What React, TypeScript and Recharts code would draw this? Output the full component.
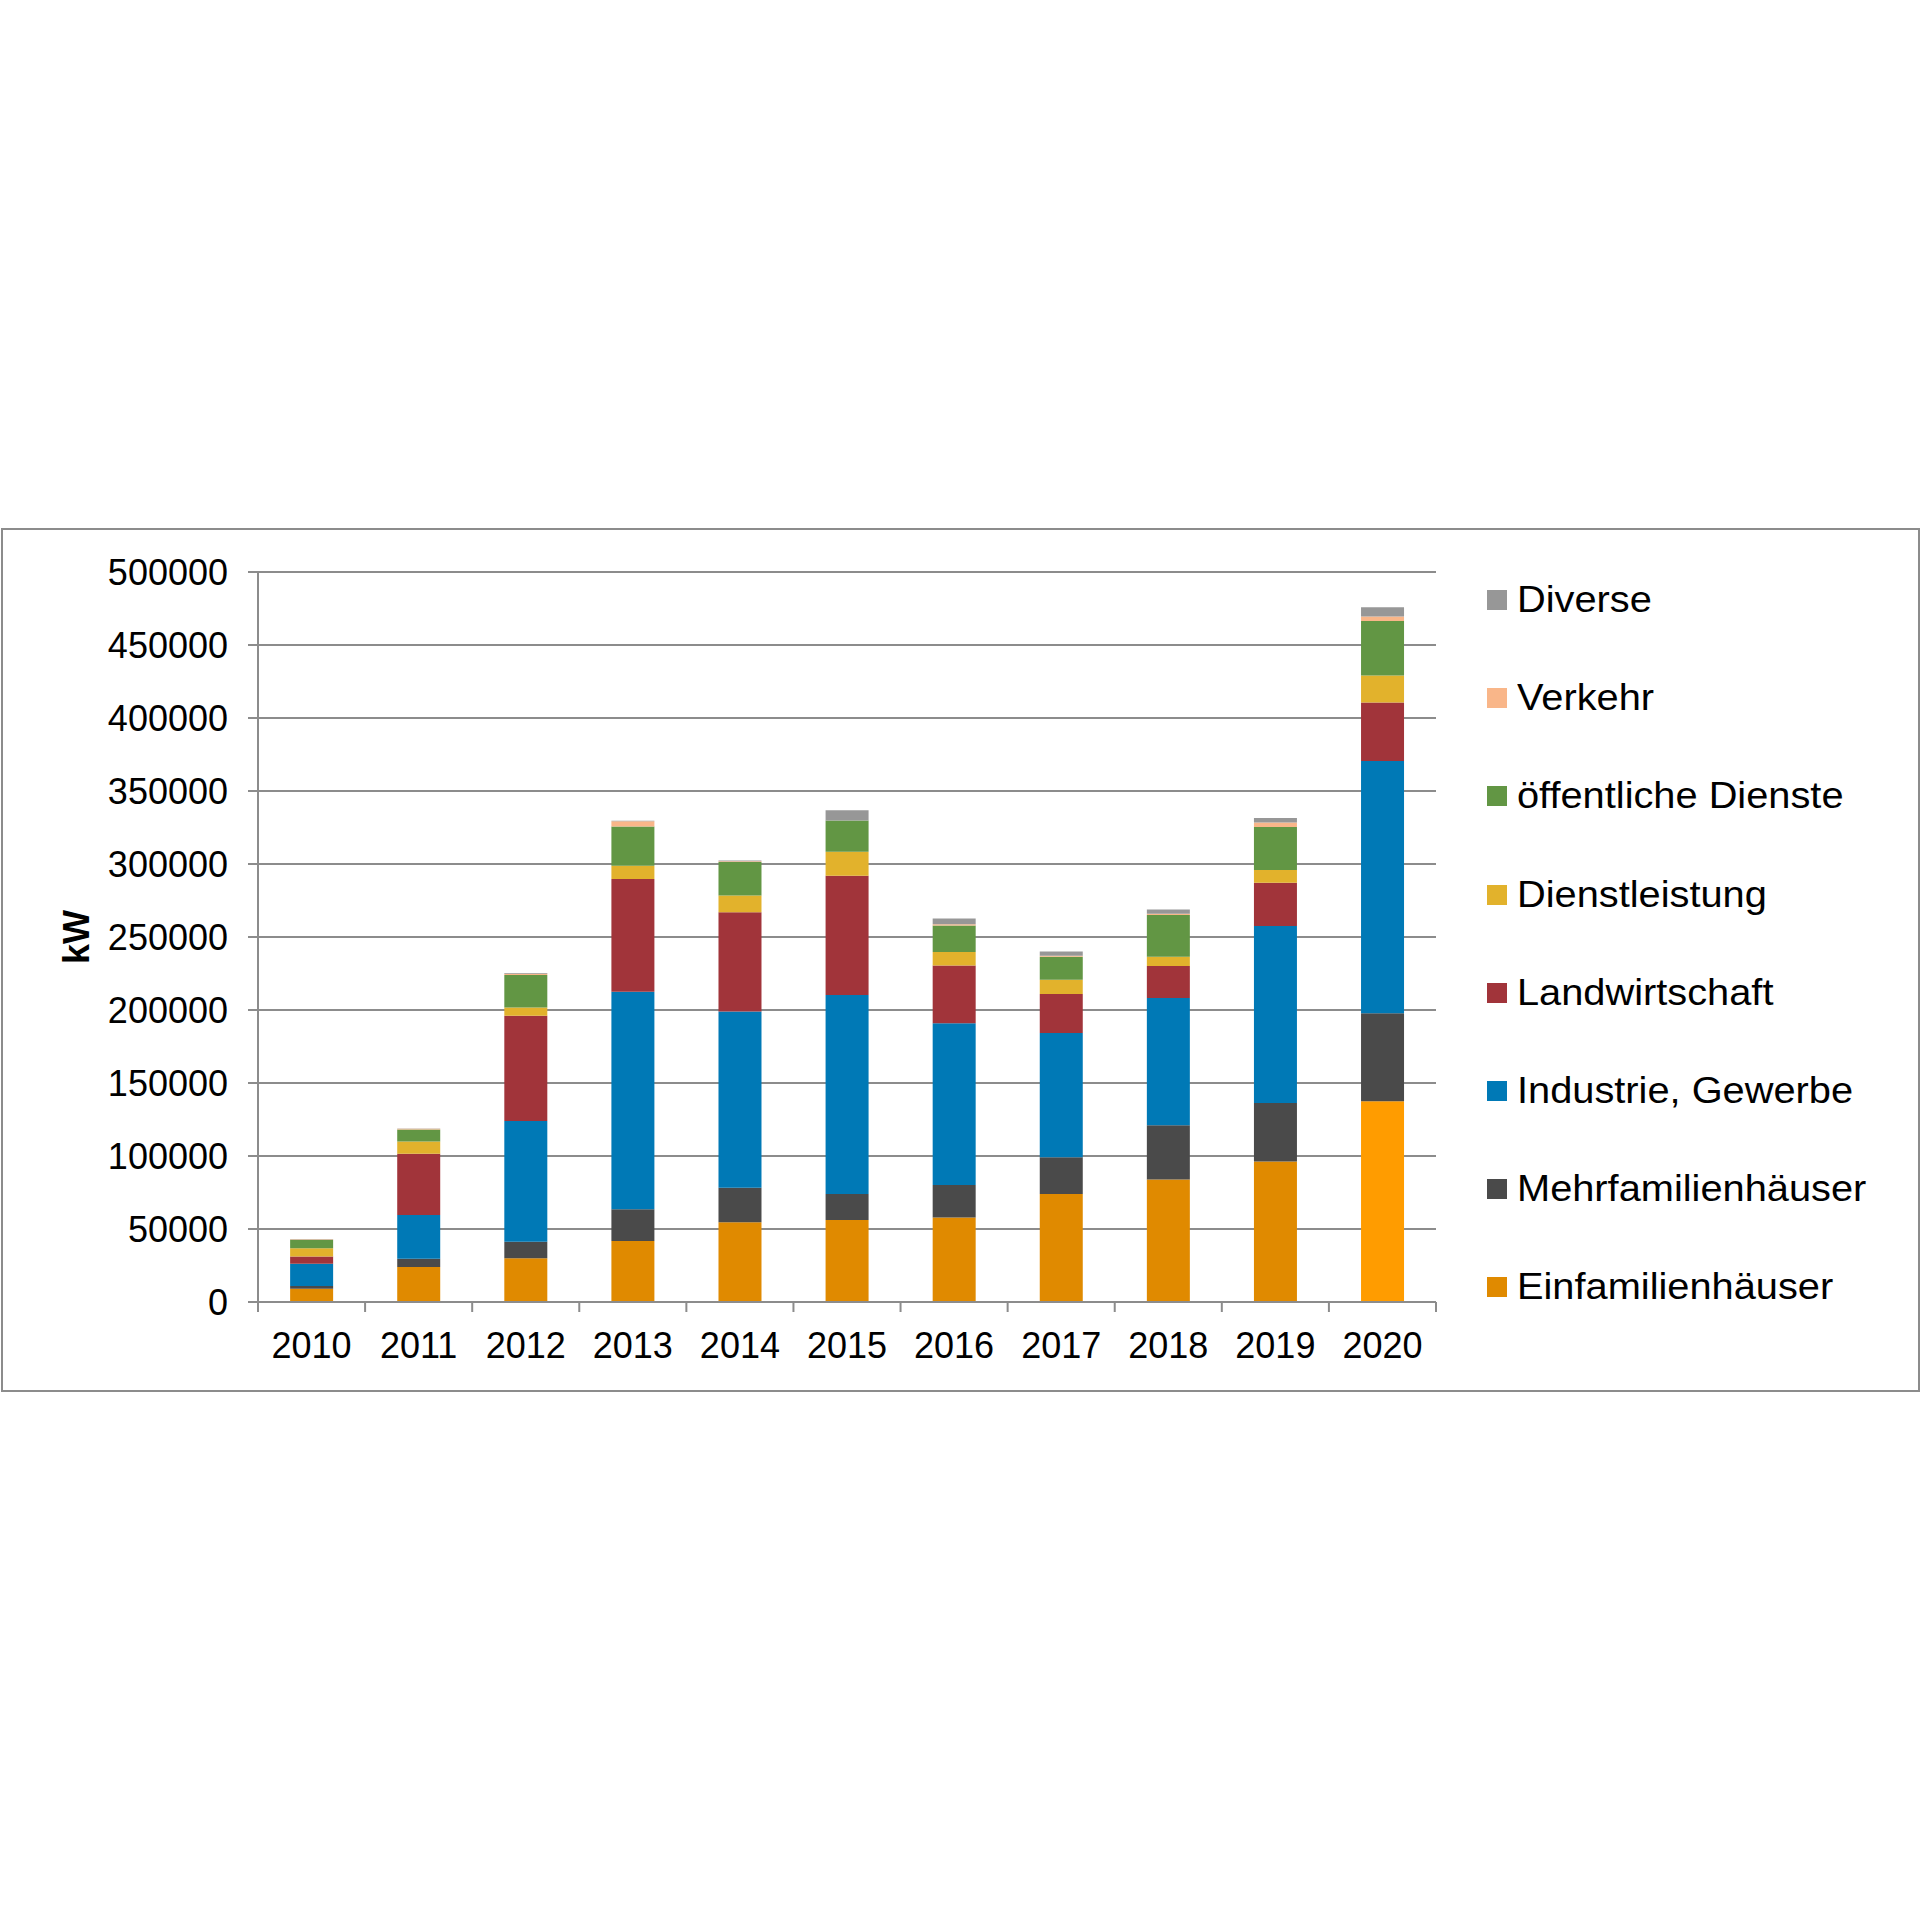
import React from 'react';
import { BarChart, Bar, XAxis, YAxis, CartesianGrid, Cell, Label } from 'recharts';

const years = ['2010', '2011', '2012', '2013', '2014', '2015', '2016', '2017', '2018', '2019', '2020'];

const einfamilienhaeuser = [9000, 24000, 30000, 41700, 54700, 56100, 57900, 73900, 83900, 96200, 137500];
const mehrfamilienhaeuser = [2000, 5700, 11200, 21900, 23500, 17800, 22300, 25300, 37200, 40100, 60200];
const industrieGewerbe = [15200, 29900, 82800, 148900, 120800, 136300, 110800, 85000, 87100, 121300, 172900];
const landwirtschaft = [5000, 41900, 72000, 77200, 67900, 81800, 39400, 26700, 21900, 29600, 40100];
const dienstleistung = [5700, 8400, 5700, 9100, 11600, 16400, 9300, 9800, 6400, 8700, 18400];
const oeffentlicheDienste = [5700, 8200, 22300, 26900, 22800, 21400, 18200, 15700, 28500, 29400, 37400];
const verkehr = [300, 500, 800, 3500, 500, 0, 900, 700, 900, 3200, 3000];
const diverse = [300, 300, 500, 500, 600, 7000, 3900, 2900, 3000, 3000, 6400];

const yTicks = [0, 50000, 100000, 150000, 200000, 250000, 300000, 350000, 400000, 450000, 500000];

// bottom to top
const series = [
  { key: 'einf', name: 'Einfamilienhäuser', values: einfamilienhaeuser, color: '#E08A00' },
  { key: 'mehr', name: 'Mehrfamilienhäuser', values: mehrfamilienhaeuser, color: '#4A4A4A' },
  { key: 'ind', name: 'Industrie, Gewerbe', values: industrieGewerbe, color: '#0079B6' },
  { key: 'land', name: 'Landwirtschaft', values: landwirtschaft, color: '#A1343A' },
  { key: 'dienst', name: 'Dienstleistung', values: dienstleistung, color: '#E2B22C' },
  { key: 'oeff', name: 'öffentliche Dienste', values: oeffentlicheDienste, color: '#629644' },
  { key: 'verk', name: 'Verkehr', values: verkehr, color: '#F9B689' },
  { key: 'div', name: 'Diverse', values: diverse, color: '#979797' },
];

const data = years.map((year, i) => {
  const row: any = { year };
  series.forEach((s) => (row[s.key] = s.values[i]));
  return row;
});

const FONT = '"Liberation Sans", Arial, sans-serif';
const GRID = '#8C8C8C';
const PLOT_LEFT = 258;
const PLOT_RIGHT = 1436;
const band = (PLOT_RIGHT - PLOT_LEFT) / years.length;

const XTick = ({ x, y, payload, index }: any) => (
  <g>
    <line x1={x - band / 2} x2={x - band / 2} y1={y} y2={y + 10} stroke={GRID} strokeWidth={2} />
    {index === years.length - 1 && (
      <line x1={x + band / 2} x2={x + band / 2} y1={y} y2={y + 10} stroke={GRID} strokeWidth={2} />
    )}
    <text x={x} y={y + 30} dy="0.71em" textAnchor="middle" fontSize={36} fontFamily={FONT} fill="#000">
      {payload.value}
    </text>
  </g>
);

const KwLabel = ({ viewBox }: any) => {
  const cx = viewBox.x - 2;
  const cy = viewBox.y + viewBox.height / 2;
  return (
    <text
      x={cx}
      y={cy}
      transform={`rotate(-90, ${cx}, ${cy})`}
      textAnchor="middle"
      dominantBaseline="central"
      fontSize={36}
      fontWeight="bold"
      fontFamily={FONT}
      fill="#000"
    >
      kW
    </text>
  );
};

export default function App() {
  return (
    <div style={{ position: 'absolute', left: 0, top: 0, width: 1920, height: 1920, background: '#fff', fontFamily: FONT }}>
      <div
        style={{
          position: 'absolute',
          left: 1,
          top: 528,
          width: 1915,
          height: 860,
          border: `2px solid ${GRID}`,
        }}
      />
      <div style={{ position: 'absolute', left: 0, top: 0 }}>
        <BarChart
          width={1920}
          height={1920}
          data={data}
          margin={{ top: 572, right: 1920 - PLOT_RIGHT, bottom: 538, left: 78 }}
          barCategoryGap="30%"
        >
          <CartesianGrid vertical={false} stroke={GRID} strokeWidth={2} />
          <XAxis
            dataKey="year"
            height={80}
            axisLine={{ stroke: GRID, strokeWidth: 2 }}
            tickLine={false}
            tickSize={0}
            tickMargin={0}
            interval={0}
            tick={<XTick />}
          />
          <YAxis
            width={180}
            domain={[0, 500000]}
            ticks={yTicks}
            interval={0}
            axisLine={{ stroke: GRID, strokeWidth: 2 }}
            tickLine={{ stroke: GRID, strokeWidth: 2 }}
            tickSize={10}
            tickMargin={20}
            tick={{ fontSize: 36, fontFamily: FONT, fill: '#000' }}
          >
            <Label content={<KwLabel />} />
          </YAxis>
          {series.map((s) => (
            <Bar key={s.key} dataKey={s.key} name={s.name} stackId="a" fill={s.color} isAnimationActive={false}>
              {s.key === 'einf'
                ? years.map((y) => <Cell key={y} fill={y === '2020' ? '#FF9C00' : s.color} />)
                : null}
            </Bar>
          ))}
        </BarChart>
      </div>
      <div style={{ position: 'absolute', left: 1487, top: 551 }}>
        {[...series].reverse().map((s) => (
          <div key={s.key} style={{ height: 98.2, display: 'flex', alignItems: 'center' }}>
            <div style={{ width: 20, height: 20, background: s.color, marginRight: 10 }} />
            <span
              style={{
                fontSize: 37,
                color: '#000',
                whiteSpace: 'nowrap',
                display: 'inline-block',
                transform: 'scaleX(1.075)',
                transformOrigin: 'left center',
              }}
            >
              {s.name}
            </span>
          </div>
        ))}
      </div>
    </div>
  );
}
